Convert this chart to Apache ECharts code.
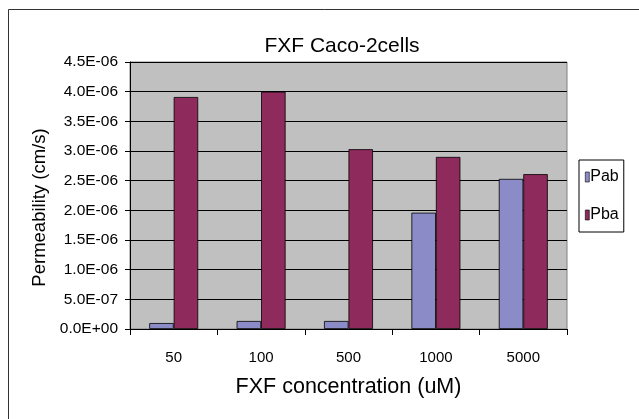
<!DOCTYPE html>
<html><head><meta charset="utf-8">
<script src="https://cdn.jsdelivr.net/npm/echarts@6/dist/echarts.min.js"></script>
<style>html,body{margin:0;padding:0;background:#fff}#c{width:639px;height:419px}</style>
</head><body><div id="c"></div>
<script>
const categories = ['50', '100', '500', '1000', '5000'];
const pab = [1.0e-7, 1.35e-7, 1.35e-7, 1.96e-6, 2.53e-6];
const pba = [3.91e-6, 4.0e-6, 3.03e-6, 2.90e-6, 2.61e-6];
const yTicks = [0, 5e-7, 1e-6, 1.5e-6, 2e-6, 2.5e-6, 3e-6, 3.5e-6, 4e-6, 4.5e-6];

function fmt(v) {
  let s = Number(v).toExponential(1).toUpperCase();
  let m = s.match(/^(-?[\d.]+)E([+-])(\d+)$/);
  if (!m) return s;
  let e = m[3].length < 2 ? '0' + m[3] : m[3];
  return m[1] + 'E' + m[2] + e;
}
const font = 'Liberation Sans, Arial, sans-serif';
const chart = echarts.init(document.getElementById('c'));
chart.setOption({
  animation: false,
  textStyle: { fontFamily: font },
  graphic: [{ type: 'rect', shape: { x: 8.5, y: 9.5, width: 650, height: 430 },
    style: { fill: 'none', stroke: '#333', lineWidth: 1 }, silent: true }],
  title: { text: 'FXF Caco-2cells', left: 337, textAlign: 'center', top: 31,
    textStyle: { fontFamily: font, fontSize: 21, fontWeight: 'normal', color: '#000' } },
  legend: {
    orient: 'vertical', left: 579, top: 160,
    data: ['Pab', 'Pba'], itemWidth: 4, itemHeight: 10, itemGap: 22,
    padding: [9, 5, 9, 6], itemStyle: { borderColor: '#000', borderWidth: 0.6 },
    backgroundColor: '#fff', borderColor: '#000', borderWidth: 1, borderRadius: 0,
    textStyle: { fontFamily: font, fontSize: 16, color: '#000', padding: [0, 0, 0, -4] },
    icon: 'rect'
  },
  grid: { left: 130, right: 72, top: 62, bottom: 90, show: true,
    backgroundColor: '#c0c0c0', borderColor: '#808080', borderWidth: 1 },
  xAxis: {
    type: 'category', data: categories,
    name: 'FXF concentration (uM)', nameLocation: 'middle', nameGap: 47,
    nameTextStyle: { fontFamily: font, fontSize: 21.5, color: '#000' },
    axisLine: { lineStyle: { color: '#000', width: 1 } },
    axisTick: { show: true, alignWithLabel: false, length: 6, lineStyle: { color: '#000' } },
    axisLabel: { color: '#000', fontSize: 15, margin: 21, fontFamily: font }
  },
  yAxis: {
    type: 'value', min: 0, max: 4.5e-6, interval: 5e-7,
    name: 'Permeability (cm/s)', nameLocation: 'middle', nameGap: 77,
    nameTextStyle: { fontFamily: font, fontSize: 18.5, color: '#000', padding: [0, 24, 0, 0] },
    axisLine: { show: true, lineStyle: { color: '#000' } },
    axisTick: { show: true, length: 5, lineStyle: { color: '#000' } },
    axisLabel: { color: '#000', fontSize: 15.5, margin: 12, fontFamily: font,
      formatter: v => fmt(yTicks.reduce((a, b) => Math.abs(b - v) < Math.abs(a - v) ? b : a)) },
    splitLine: { show: true, lineStyle: { color: '#000', width: 1 } }
  },
  series: [
    { name: 'Pab', type: 'bar', data: pab, barGap: '0%', barCategoryGap: '44%',
      itemStyle: { color: '#8b8bc8', borderColor: '#000', borderWidth: 0.8 } },
    { name: 'Pba', type: 'bar', data: pba, barGap: '0%', barCategoryGap: '44%',
      itemStyle: { color: '#8e2a5c', borderColor: '#000', borderWidth: 0.8 } }
  ]
});
</script></body></html>
